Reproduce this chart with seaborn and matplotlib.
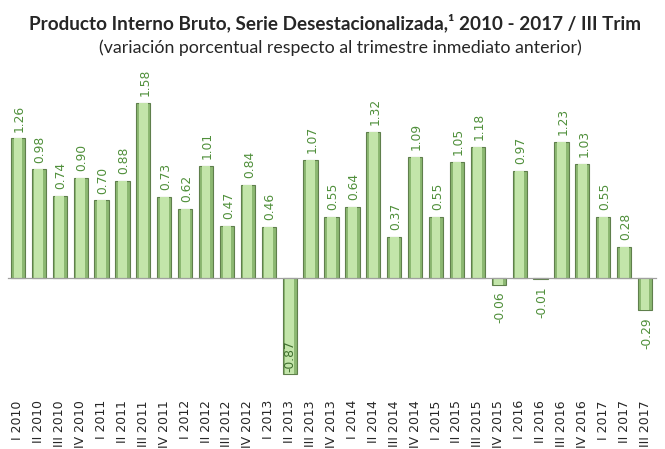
import matplotlib
matplotlib.use("Agg")
import matplotlib.pyplot as plt
import matplotlib.ticker as mticker
import seaborn as sns
import pandas as pd

quarters = ["I 2010", "II 2010", "III 2010", "IV 2010",
            "I 2011", "II 2011", "III 2011", "IV 2011",
            "I 2012", "II 2012", "III 2012", "IV 2012",
            "I 2013", "II 2013", "III 2013", "IV 2013",
            "I 2014", "II 2014", "III 2014", "IV 2014",
            "I 2015", "II 2015", "III 2015", "IV 2015",
            "I 2016", "II 2016", "III 2016", "IV 2016",
            "I 2017", "II 2017", "III 2017"]
pib_var = [1.26, 0.98, 0.74, 0.90,
           0.70, 0.88, 1.58, 0.73,
           0.62, 1.01, 0.47, 0.84,
           0.46, -0.87, 1.07, 0.55,
           0.64, 1.32, 0.37, 1.09,
           0.55, 1.05, 1.18, -0.06,
           0.97, -0.01, 1.23, 1.03,
           0.55, 0.28, -0.29]

df = pd.DataFrame({"trimestre": quarters, "variacion": pib_var})

sns.set_style("white")
plt.rcParams["font.family"] = ["DejaVu Sans"]

fig = plt.figure(figsize=(6.65, 4.49), dpi=100)
ax = fig.add_axes([7.5 / 665, 0.1588, 648 / 665, 0.666])

# barra base (borde oscuro) + brillo interior
sns.barplot(data=df, x="trimestre", y="variacion", color="#8cb872",
            width=0.68, edgecolor="#5f7f4c", linewidth=0.8,
            saturation=1, ax=ax)
sns.barplot(data=df, x="trimestre", y="variacion", color="#c3e5aa",
            width=0.42, linewidth=0, saturation=1, ax=ax)

ax.set_xlim(-0.5, len(quarters) - 0.5)
ax.set_ylim(-0.9, 1.8)

for i, v in enumerate(pib_var):
    txt = f"{v:.2f}"
    if v >= 0:
        ax.annotate(txt, (i, v), xytext=(1, 5), textcoords="offset points",
                    rotation=90, ha="center", va="bottom",
                    fontsize=8.8, color="#4f8f3a")
    elif v < -0.5:
        ax.annotate(txt, (i, v), xytext=(0, 2), textcoords="offset points",
                    rotation=90, ha="center", va="bottom",
                    fontsize=8.8, color="#3f6f2e")
    else:
        ax.annotate(txt, (i, v), xytext=(1, -5), textcoords="offset points",
                    rotation=90, ha="center", va="top",
                    fontsize=8.8, color="#4f8f3a")

for s in ["top", "right", "left"]:
    ax.spines[s].set_visible(False)
ax.spines["bottom"].set_position(("data", 0))
ax.spines["bottom"].set_color("#a0a0a0")
ax.spines["bottom"].set_linewidth(0.9)
ax.set_yticks([])
ax.set_xlabel("")
ax.set_ylabel("")

ax.xaxis.set_minor_locator(mticker.FixedLocator([k - 0.5 for k in range(len(quarters) + 1)]))
ax.tick_params(axis="x", which="minor", length=4, width=0.8, color="#a0a0a0", direction="out")
ax.tick_params(axis="x", which="major", length=0, pad=88)
ax.set_xticks(range(len(quarters)))
ax.set_xticklabels(quarters, rotation=90, fontsize=9, va="top", ha="center")

fig.text(0.504, 0.949, "Producto Interno Bruto, Serie Desestacionalizada,¹ 2010 - 2017 / III Trim",
         ha="center", va="center", fontsize=13.6, fontweight="bold",
         family=["Lato", "DejaVu Sans"])
fig.text(0.512, 0.894, "(variación porcentual respecto al trimestre inmediato anterior)",
         ha="center", va="center", fontsize=12.8,
         family=["Lato", "DejaVu Sans"])

fig.savefig("out.png", dpi=100)
